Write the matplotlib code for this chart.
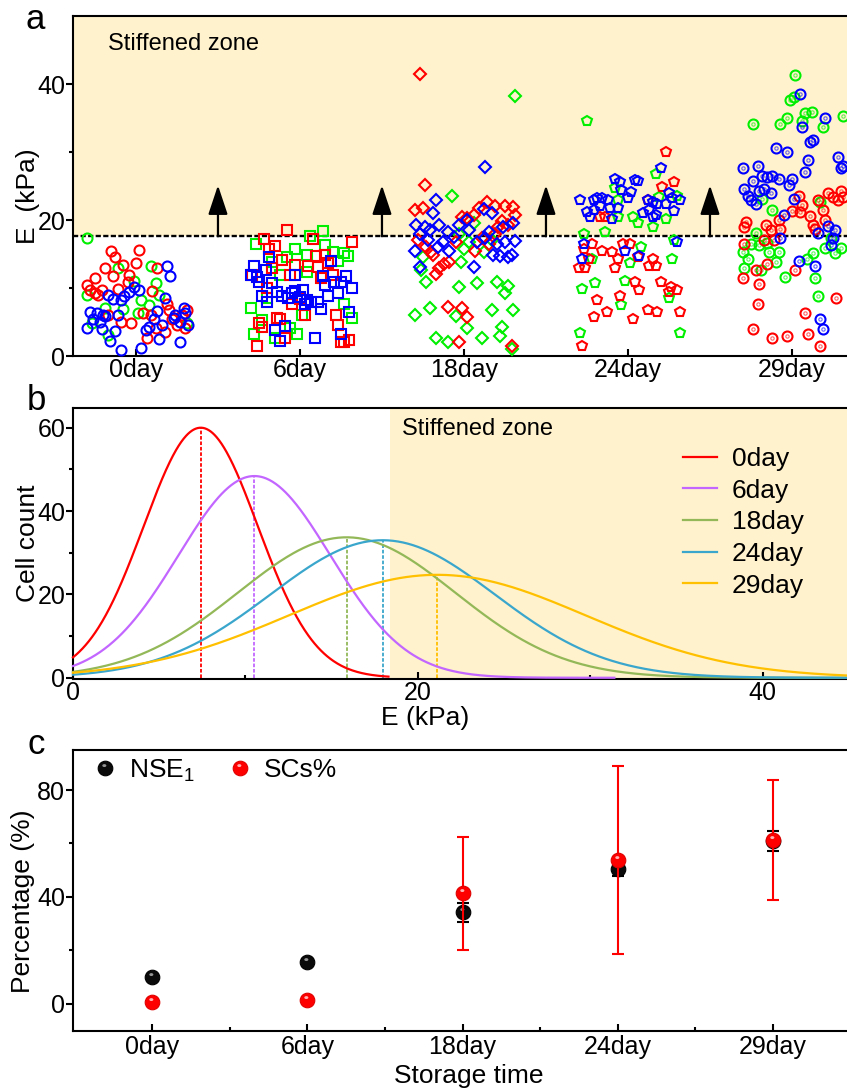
import numpy as np
import matplotlib
matplotlib.use("Agg")
import matplotlib.pyplot as plt
from matplotlib.path import Path
from matplotlib.lines import Line2D
from matplotlib.legend_handler import HandlerTuple

plt.rcParams["font.family"] = ["Liberation Sans", "DejaVu Sans"]
plt.rcParams["mathtext.fontset"] = "custom"
plt.rcParams["mathtext.rm"] = "Liberation Sans"
plt.rcParams["axes.linewidth"] = 1.5

# =========================================================
# DATOS
# =========================================================
dias = ["0day", "6day", "18day", "24day", "29day"]
umbral_E = 17.6          # kPa, linea discontinua del panel a
zona_b = 18.4            # kPa, inicio de la zona rigida en panel b
flecha_top = 25.1

# panel a: (desplazamiento en x dentro de la categoria, E en kPa)
d0_red = [(-0.15, 15.5), (0.02, 15.6), (-0.13, 14.5), (-0.08, 13.4), (-0.19, 12.9), (0.00, 13.7),
          (-0.14, 11.8), (-0.04, 11.9), (-0.25, 11.5), (-0.30, 10.5), (-0.28, 9.7), (-0.25, 9.2),
          (-0.21, 9.7), (-0.11, 9.9), (-0.05, 10.9), (-0.23, 8.9), (0.10, 9.5), (0.13, 12.9),
          (0.19, 7.7), (0.20, 6.7), (0.04, 6.3), (0.09, 6.1), (0.22, 5.5), (-0.09, 5.0),
          (-0.03, 4.8), (-0.17, 6.1), (0.31, 6.7), (0.30, 4.1), (0.25, 4.5), (0.18, 3.6),
          (0.07, 2.6), (0.12, 4.1), (0.28, 6.0)]
d0_green = [(-0.30, 17.4), (-0.11, 12.9), (0.09, 13.2), (-0.01, 11.1), (0.12, 10.7), (-0.30, 9.0),
            (-0.19, 7.1), (-0.08, 6.9), (0.03, 8.2), (0.14, 8.9), (0.01, 6.3), (0.31, 4.8),
            (-0.17, 3.1), (0.08, 7.5), (-0.27, 4.8)]
d0_blue = [(0.19, 13.3), (0.21, 11.8), (-0.01, 10.2), (0.02, 9.7), (-0.04, 9.4), (-0.07, 8.8),
           (-0.14, 8.4), (-0.17, 8.9), (-0.09, 8.2), (0.18, 8.6), (-0.28, 6.4), (-0.24, 6.3),
           (-0.20, 6.0), (-0.26, 5.5), (-0.22, 5.0), (-0.19, 5.9), (-0.11, 6.1), (-0.30, 4.1),
           (-0.21, 4.0), (-0.13, 3.7), (-0.16, 2.2), (-0.09, 0.9), (0.03, 1.2), (0.06, 3.8),
           (0.08, 4.3), (0.11, 5.4), (0.13, 6.6), (0.16, 4.5), (0.14, 2.5), (0.23, 5.6),
           (0.24, 6.1), (0.29, 7.1), (0.30, 6.3), (0.27, 5.0), (0.32, 4.5), (0.27, 2.0)]

d6_red = [(-0.08, 18.5), (-0.22, 17.2), (-0.15, 16.2), (-0.19, 15.7), (0.08, 17.2), (0.32, 16.8),
          (-0.11, 14.1), (-0.03, 13.4), (0.05, 13.2), (0.10, 14.7), (0.15, 14.9), (0.17, 13.7),
          (0.11, 13.1), (-0.06, 11.9), (-0.17, 12.9), (0.20, 11.9), (0.13, 11.4), (-0.20, 10.0),
          (0.00, 8.4), (-0.05, 7.7), (0.03, 6.1), (-0.14, 5.6), (-0.12, 5.4), (-0.25, 4.8),
          (-0.23, 4.3), (0.22, 6.0), (0.23, 4.6), (-0.09, 2.6), (-0.26, 1.5), (0.25, 2.1),
          (0.27, 2.0), (0.30, 2.3), (-0.29, 11.9)]
d6_green = [(0.14, 18.4), (0.06, 17.6), (-0.27, 16.4), (-0.03, 15.7), (0.04, 14.9), (-0.08, 14.6),
            (0.20, 15.3), (0.27, 15.1), (0.29, 14.7), (0.23, 13.9), (0.15, 16.3), (-0.12, 11.9),
            (-0.17, 13.8), (0.04, 12.4), (-0.30, 7.1), (0.27, 7.7), (0.32, 5.6), (-0.23, 5.3),
            (-0.28, 3.3), (-0.15, 2.6), (-0.02, 3.3), (-0.06, 4.1), (0.01, 6.0), (-0.20, 8.5)]
d6_blue = [(-0.19, 14.6), (-0.28, 13.2), (-0.21, 12.6), (-0.30, 11.9), (-0.26, 11.6), (-0.25, 10.9),
           (-0.17, 10.8), (-0.03, 11.9), (0.19, 13.9), (0.14, 11.8), (0.15, 10.4), (0.21, 10.9),
           (0.28, 11.8), (0.25, 10.9), (0.32, 10.0), (0.23, 9.2), (0.17, 8.8), (-0.23, 8.8),
           (-0.20, 8.0), (-0.14, 9.4), (-0.11, 8.8), (-0.07, 8.6), (-0.05, 9.2), (-0.03, 9.5),
           (0.02, 9.7), (0.00, 8.7), (0.04, 8.2), (0.03, 7.6), (0.07, 8.0), (0.11, 8.0),
           (0.13, 6.9), (0.30, 6.4), (-0.09, 4.4), (-0.15, 3.8), (-0.12, 2.2), (0.09, 2.6),
           (0.25, 3.2)]

d18_red = [(-0.27, 41.5), (-0.24, 25.1), (-0.30, 21.4), (-0.25, 21.8), (0.14, 22.6), (0.19, 22.1),
           (0.25, 22.0), (0.30, 21.9), (0.31, 20.8), (0.09, 21.7), (0.06, 20.8), (0.02, 20.3),
           (-0.01, 20.5), (0.23, 19.9), (0.27, 19.2), (0.21, 19.0), (-0.28, 17.0), (-0.23, 16.0),
           (-0.20, 15.3), (-0.19, 14.8), (-0.09, 13.8), (-0.12, 13.6), (-0.15, 12.9), (-0.17, 12.1),
           (-0.05, 16.8), (0.07, 15.5), (0.15, 16.5), (-0.10, 7.2), (-0.01, 7.1), (0.02, 5.8),
           (-0.03, 2.1), (0.29, 1.4), (0.11, 17.4), (0.19, 18.0)]
d18_green = [(0.31, 38.3), (-0.07, 23.6), (0.06, 19.5), (-0.03, 18.0), (0.03, 16.8), (0.00, 15.8),
             (-0.25, 14.6), (-0.26, 12.6), (0.12, 15.3), (0.17, 17.0), (-0.02, 13.8), (-0.23, 10.9),
             (-0.03, 10.2), (0.08, 10.8), (0.20, 10.9), (0.27, 10.3), (0.25, 9.3), (-0.21, 7.1),
             (-0.30, 6.0), (-0.05, 5.9), (0.17, 6.7), (0.30, 6.7), (0.02, 4.1), (0.23, 4.3),
             (-0.17, 2.6), (-0.10, 2.0), (0.11, 2.7), (0.22, 2.9), (0.29, 1.1)]
d18_blue = [(0.13, 27.8), (-0.17, 23.0), (-0.19, 21.0), (0.12, 21.6), (0.17, 21.0), (0.02, 20.0),
            (-0.03, 19.3), (-0.29, 19.2), (-0.24, 19.0), (-0.21, 18.5), (-0.15, 19.2), (-0.10, 18.2),
            (0.03, 18.5), (0.15, 18.2), (0.24, 19.0), (0.30, 19.5), (-0.27, 18.0), (-0.22, 17.0),
            (-0.16, 16.0), (-0.13, 16.8), (-0.06, 17.5), (0.08, 16.8), (0.13, 17.3), (0.20, 16.5),
            (0.25, 16.8), (0.31, 16.9), (-0.30, 15.5), (-0.09, 15.5), (0.18, 14.9), (0.22, 14.7),
            (0.27, 14.6), (0.29, 14.8), (-0.27, 13.1), (0.06, 13.1)]

d24_red = [(0.23, 30.0), (0.28, 25.6), (0.21, 24.9), (0.12, 22.9), (-0.17, 20.5), (-0.14, 20.5),
           (-0.22, 16.4), (-0.27, 15.8), (-0.16, 15.5), (-0.10, 15.3), (-0.03, 16.4), (0.01, 16.4),
           (0.06, 14.6), (-0.06, 14.3), (-0.24, 14.3), (-0.30, 12.9), (-0.26, 12.9), (-0.08, 12.9),
           (0.13, 13.2), (0.17, 13.2), (0.15, 14.2), (0.04, 10.9), (0.07, 9.7), (0.20, 10.9),
           (0.26, 10.2), (0.25, 9.4), (0.30, 9.7), (-0.19, 8.3), (-0.05, 8.8), (-0.13, 6.4),
           (-0.21, 5.8), (0.03, 5.4), (0.12, 6.7), (0.18, 6.5), (0.32, 6.5), (-0.28, 1.4)]
d24_green = [(-0.25, 34.5), (0.17, 26.7), (-0.08, 24.7), (-0.06, 22.9), (0.19, 23.4), (0.30, 23.5),
             (0.03, 20.4), (0.06, 19.6), (0.15, 18.9), (0.23, 20.2), (-0.06, 20.4), (-0.14, 18.2),
             (-0.27, 17.9), (0.28, 17.1), (0.08, 16.0), (0.01, 13.7), (-0.22, 14.3), (0.27, 14.2),
             (-0.28, 9.9), (-0.20, 10.7), (-0.02, 11.0), (0.25, 8.5), (-0.04, 7.5), (-0.29, 3.4),
             (0.32, 3.4)]
d24_blue = [(0.20, 27.7), (-0.08, 26.1), (-0.05, 25.6), (0.04, 25.9), (0.06, 25.7), (-0.04, 24.4),
            (0.02, 24.1), (0.00, 23.2), (-0.29, 22.9), (-0.21, 22.9), (-0.19, 23.2), (-0.16, 23.2),
            (-0.12, 22.9), (-0.17, 22.1), (-0.21, 21.4), (-0.25, 21.2), (-0.23, 20.5), (-0.11, 21.8),
            (-0.06, 21.7), (-0.10, 20.2), (0.12, 22.9), (0.15, 22.6), (0.18, 22.3), (0.23, 22.3),
            (0.25, 24.0), (0.27, 23.3), (0.32, 22.9), (0.28, 21.3), (0.09, 21.0), (0.13, 21.5),
            (0.17, 20.8), (0.15, 20.4), (-0.27, 16.4), (0.30, 16.8), (-0.02, 15.4), (0.07, 14.7),
            (-0.28, 14.2)]

d29_red = [(-0.28, 19.7), (-0.29, 18.9), (-0.16, 19.2), (-0.13, 18.5), (-0.07, 18.7), (-0.08, 20.0),
           (0.00, 21.3), (0.04, 23.5), (0.06, 22.2), (0.05, 21.2), (0.11, 20.6), (0.13, 19.3),
           (0.14, 18.7), (0.16, 23.0), (0.19, 21.4), (0.20, 20.0), (0.22, 23.9), (0.25, 23.4),
           (0.28, 22.9), (0.30, 24.3), (0.31, 23.4), (-0.17, 17.0), (-0.29, 16.4), (-0.11, 17.1),
           (-0.22, 12.6), (-0.15, 13.6), (0.02, 12.7), (-0.30, 11.4), (-0.20, 10.6), (0.27, 8.5),
           (-0.21, 7.7), (0.08, 6.3), (-0.24, 3.9), (-0.12, 2.7), (-0.03, 3.0), (0.10, 3.2),
           (0.17, 1.5)]
d29_green = [(0.02, 41.3), (-0.01, 37.6), (0.01, 38.1), (0.08, 35.8), (0.12, 35.9), (-0.03, 35.0),
             (-0.24, 34.1), (-0.07, 34.1), (0.06, 34.5), (0.19, 33.7), (0.31, 35.3), (-0.12, 21.5),
             (-0.18, 23.1), (0.17, 22.6), (-0.22, 18.1), (-0.25, 16.4), (-0.30, 15.3), (-0.27, 14.2),
             (-0.29, 13.0), (-0.20, 16.3), (-0.15, 16.6), (-0.14, 15.3), (-0.08, 15.3), (-0.10, 13.8),
             (-0.19, 12.6), (-0.04, 11.6), (0.09, 14.3), (0.13, 15.1), (0.20, 15.9), (0.26, 15.1),
             (0.30, 15.9), (0.14, 11.4), (0.16, 8.8), (0.24, 17.3)]
d29_blue = [(0.05, 38.5), (0.20, 35.0), (0.06, 33.7), (0.13, 31.7), (0.11, 31.4), (-0.10, 30.6),
            (-0.03, 30.0), (0.10, 28.8), (0.28, 29.2), (0.31, 28.0), (0.30, 27.7), (-0.30, 27.7),
            (-0.21, 27.9), (0.08, 27.0), (-0.18, 26.5), (-0.15, 26.3), (-0.12, 26.5), (-0.08, 26.1),
            (0.00, 26.1), (-0.24, 25.7), (-0.02, 25.2), (-0.29, 24.6), (-0.20, 24.3), (-0.17, 24.6),
            (-0.13, 23.9), (-0.27, 23.6), (-0.25, 22.9), (-0.22, 22.3), (0.01, 23.1), (-0.05, 20.8),
            (0.22, 19.1), (0.26, 18.5), (0.16, 18.1), (-0.07, 17.3), (0.25, 17.4), (0.24, 16.3),
            (0.04, 14.0), (0.14, 13.3), (0.17, 5.5), (0.19, 3.9)]

# panel b: ajustes gaussianos (centro, altura, sigma) y hasta donde se dibuja cada curva
pico_E = [7.41, 10.52, 15.87, 17.96, 21.13]
pico_n = [60.0, 48.4, 33.7, 33.0, 24.7]
sigma_E = [3.31, 4.41, 6.3, 6.5, 8.6]
fin_E = [18.3, 31.4, 48.0, 48.0, 48.0]

# panel c
nse1 = [9.9, 15.7, 34.2, 50.3, 61.0]
nse1_err = [0.6, 0.8, 3.5, 2.6, 3.7]
scs = [0.5, 1.5, 41.3, 53.9, 61.3]
scs_err = [0.0, 0.0, 21.2, 35.2, 22.5]

# =========================================================
# ESTILO
# =========================================================
c_rgb = {"red": "#FF0000", "green": "#00EE00", "blue": "#0000FF"}
marcadores = ["o", "s", "D", "p", "o"]
tam_marc = [7.2, 6.6, 6.0, 7.8, 7.2]
col_b = ["#FF0000", "#C266FF", "#93B858", "#3AA6CC", "#FFC000"]
beige = "#FFF2CC"

W, H = 847, 1090
x0_px, x1_px = 73, 900


def caja(top, bottom):
    return [x0_px / W, 1 - bottom / H, (x1_px - x0_px) / W, (bottom - top) / H]


def ejes(ax, xpad=1.5):
    ax.spines["right"].set_visible(False)
    ax.tick_params(axis="y", which="major", direction="out", length=5, width=1.5,
                   labelsize=18, pad=0.5)
    ax.tick_params(axis="y", which="minor", direction="out", length=3, width=1.5)
    ax.tick_params(axis="x", which="major", direction="in", length=5, width=1.5,
                   labelsize=18, pad=xpad)
    ax.tick_params(axis="x", which="minor", direction="in", length=3, width=1.5)


# brillo de las esferas del panel c: circulo pequeno desplazado arriba-izquierda
th = np.linspace(0, 2 * np.pi, 30)
hv = [(-0.5, -0.5), (0.5, 0.5)] + list(zip(-0.08 + 0.14 * np.cos(th), 0.2 + 0.1 * np.sin(th)))
hc = [Path.MOVETO, Path.MOVETO, Path.MOVETO] + [Path.LINETO] * (len(th) - 2) + [Path.CLOSEPOLY]
brillo = Path(hv, hc)

fig = plt.figure(figsize=(W / 100, H / 100), dpi=100)

# =========================================================
# PANEL A
# =========================================================
axa = fig.add_axes(caja(16, 356))
axa.axhspan(umbral_E, 50, color=beige, lw=0, zorder=0)
axa.axhline(umbral_E, color="black", lw=1.7, ls=(0, (2.2, 1.0)), zorder=1.5)

grupos = [
    (d0_green, d0_red, d0_blue),
    (d6_green, d6_red, d6_blue),
    (d18_green, d18_red, d18_blue),
    (d24_green, d24_red, d24_blue),
    (d29_green, d29_red, d29_blue),
]
for i, (g, r, b) in enumerate(grupos):
    for pts, col in [(g, "green"), (r, "red"), (b, "blue")]:
        arr = np.array(pts)
        axa.plot(i + 1 + arr[:, 0], arr[:, 1], ls="none", marker=marcadores[i],
                 ms=tam_marc[i], mfc="none", mec=c_rgb[col], mew=1.5, zorder=3)
        if i == 4:
            axa.plot(i + 1 + arr[:, 0], arr[:, 1], ls="none", marker="o",
                     ms=2.4, mfc="none", mec=c_rgb[col], mew=0.8, alpha=0.6, zorder=3)

for xa in [1.5, 2.5, 3.5, 4.5]:
    axa.annotate("", xy=(xa, flecha_top), xytext=(xa, umbral_E),
                 arrowprops=dict(arrowstyle="-|>,head_length=1.5,head_width=0.5",
                                 mutation_scale=12, color="black", lw=1.6,
                                 shrinkA=0, shrinkB=0), zorder=4)

axa.text(0.83, 45.0, "Stiffened zone", fontsize=17, va="baseline", ha="left")
axa.set_xlim(0.616, 0.616 + (x1_px - x0_px) / 164)
axa.set_ylim(0, 50)
axa.set_xticks(range(1, 6))
axa.set_xticklabels(dias)
axa.set_yticks([0, 20, 40])
axa.set_yticks([10, 30], minor=True)
ejes(axa)
axa.set_ylabel("E  (kPa)", fontsize=19)
axa.yaxis.set_label_coords(-0.040, 0.47)

# =========================================================
# PANEL B
# =========================================================
axb = fig.add_axes(caja(407.7, 679))
axb.axvspan(zona_b, 48, color=beige, lw=0, zorder=0)
for i in range(5):
    E = np.linspace(0, fin_E[i], 500)
    n = pico_n[i] * np.exp(-(E - pico_E[i]) ** 2 / (2 * sigma_E[i] ** 2))
    axb.plot(E, n, color=col_b[i], lw=1.6, label=dias[i], zorder=3, clip_on=False)
    axb.plot([pico_E[i], pico_E[i]], [0, pico_n[i]], color=col_b[i], lw=1.3,
             ls=(0, (2, 1)), zorder=2)

axb.text(19.07, 58.2, "Stiffened zone", fontsize=17, va="baseline", ha="left")
axb.set_xlim(0, (x1_px - x0_px) / 17.24)
axb.set_ylim(-0.3, 64.8)
axb.set_xticks([0, 20, 40])
axb.set_xticks([10, 30], minor=True)
axb.set_yticks([0, 20, 40, 60])
axb.set_yticks([10, 30, 50], minor=True)
ejes(axb)
axb.set_xlabel("E (kPa)", fontsize=19)
axb.xaxis.set_label_coords(0.426, -0.10)
axb.set_ylabel("Cell count", fontsize=19)
axb.yaxis.set_label_coords(-0.040, 0.5)
axb.legend(loc="upper left", bbox_to_anchor=(683 / W, 1 - 447 / H),
           bbox_transform=fig.transFigure, frameon=False, fontsize=19,
           handlelength=1.3, handletextpad=0.55, labelspacing=0.29,
           borderpad=0, borderaxespad=0)

# =========================================================
# PANEL C
# =========================================================
axc = fig.add_axes(caja(750, 1031))
xc = np.arange(1, 6)
axc.errorbar(xc, nse1, yerr=nse1_err, fmt="none", ecolor="black", elinewidth=1.5,
             capsize=4.5, capthick=1.5, zorder=2)
axc.plot(xc, nse1, ls="none", marker="o", ms=10.5, mfc="#0a0a0a", mec="black",
         mew=0.8, zorder=3)
axc.plot(xc, nse1, ls="none", marker=brillo, ms=10.5, mfc="#b8b8b8", mew=0,
         alpha=0.8, zorder=3.1)
axc.errorbar(xc, scs, yerr=scs_err, fmt="none", ecolor="#FF0000", elinewidth=1.5,
             capsize=4.5, capthick=1.5, zorder=4)
axc.plot(xc, scs, ls="none", marker="o", ms=10.5, mfc="#FF0000", mec="#E00000",
         mew=0.8, zorder=5)
axc.plot(xc, scs, ls="none", marker=brillo, ms=10.5, mfc="#FFC8C8", mew=0,
         alpha=0.9, zorder=5.1)

h_nse = (Line2D([], [], ls="none", marker="o", ms=10.5, mfc="#0a0a0a", mec="black", mew=0.8),
         Line2D([], [], ls="none", marker=brillo, ms=10.5, mfc="#b8b8b8", mew=0, alpha=0.8))
h_scs = (Line2D([], [], ls="none", marker="o", ms=10.5, mfc="#FF0000", mec="#E00000", mew=0.8),
         Line2D([], [], ls="none", marker=brillo, ms=10.5, mfc="#FFC8C8", mew=0, alpha=0.9))
axc.legend([h_nse, h_scs], [r"NSE$_{\mathregular{1}}$", "SCs%"],
           handler_map={tuple: HandlerTuple(ndivide=1, pad=0)},
           loc="upper left", bbox_to_anchor=(92 / W, 1 - 757 / H),
           bbox_transform=fig.transFigure, frameon=False, fontsize=19, ncol=2,
           handlelength=1.0, handletextpad=0.4, columnspacing=1.2,
           borderpad=0, borderaxespad=0)

axc.set_xlim(0.491, 0.491 + (x1_px - x0_px) / 155.25)
axc.set_ylim(-10.3, 95)
axc.set_xticks(xc)
axc.set_xticklabels(dias)
axc.set_xticks([1.5, 2.5, 3.5, 4.5], minor=True)
axc.set_yticks([0, 40, 80])
axc.set_yticks([20, 60], minor=True)
ejes(axc, xpad=3)
axc.set_xlabel("Storage time", fontsize=19)
axc.xaxis.set_label_coords(0.478, -0.118)
axc.set_ylabel("Percentage (%)", fontsize=19)
axc.yaxis.set_label_coords(-0.046, 0.46)

# letras de panel
for letra, yl in [("a", 29), ("b", 410), ("c", 754)]:
    fig.text(25 / W if letra == "a" else 27 / W, 1 - yl / H, letra, fontsize=25,
             va="baseline", ha="left")

plt.savefig("out.png", dpi=100)
